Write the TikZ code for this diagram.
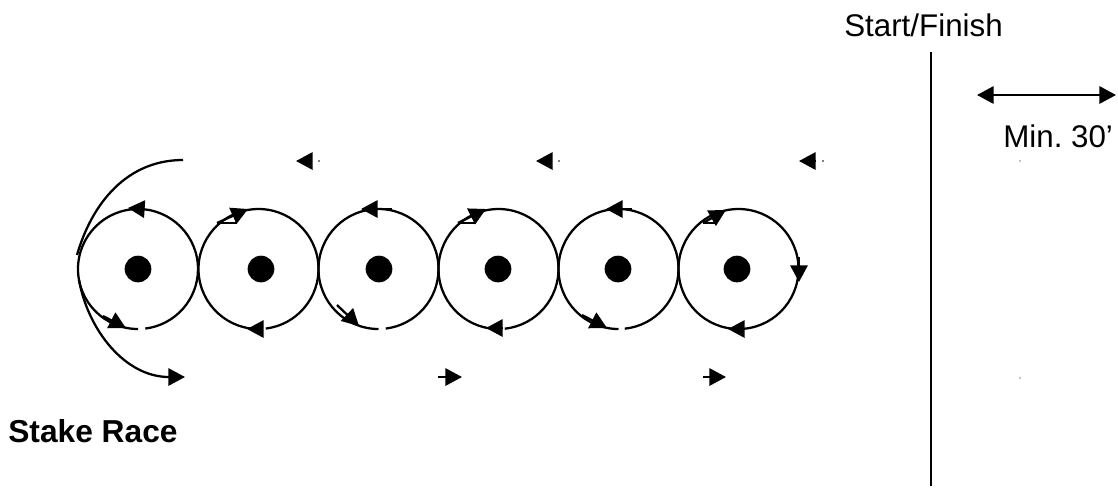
\documentclass[tikz,border=0pt]{standalone}
\usepackage{fontspec}
\setmainfont{Liberation Sans}
\usetikzlibrary{arrows.meta}
\tikzset{
  track/.style={line width=1.7pt},
  head/.style={track, -{Triangle[length=12.5pt,width=13pt]}},
  stake/.style={circle, fill=black, inner sep=0pt, minimum size=20pt},
  label/.style={anchor=base west, inner sep=0pt, font=\fontsize{23.5}{28}\selectfont},
}
\frenchspacing
\begin{document}
\begin{tikzpicture}[x=0.75pt, y=0.75pt, yscale=-1]
    \useasboundingbox (0,0) rectangle (1118,487);
    % stakes and the circles round them, each with its small gap at the bottom
    \foreach \cx/\dx/\ga/\gb [count=\i] in {138/138/83/90, 258.5/261/83/87, 378.5/379/83/90, 498.5/498/84/87, 618.5/618/84/90} {
      \node[stake] (stake\i) at (\dx,269) {};
      \draw[track] ([shift={(\cx,269)}]\gb:45pt) arc[start angle=\gb, end angle=\ga+360, radius=45pt];
    }
    \node[stake] (stake6) at (737,269) {};
    \draw[track] (738.5,269) circle[radius=45pt];
    % top of each circle
    \draw[head] (143,209) -- (128,208);
    \draw[head] (392,209) -- (361,209);
    \draw[head] (632,209) -- (606,209);
    \draw[track] (217,223) -- (237,223);
    \draw[head] (217,223) -- (248,209);
    \draw[track] (458,223) -- (475,223);
    \draw[head] (458,223) -- (486,209);
    \draw[track] (703,223) -- (716,223);
    \draw[head] (703,223) -- (726,210);
    % bottom of each circle
    \draw[head] (103,316) -- (126,328);
    \draw[head] (262,329) -- (247,329);
    \draw[head] (337,305) -- (359,326);
    \draw[head] (502,328) -- (486,328);
    \draw[head] (582,315) -- (607,328);
    \draw[head] (743,329) -- (728,329);
    \draw[head] (799,257) -- (799,282);
    % entry and exit curves
    \draw[track] (183,160) .. controls (127,160) and (92,203) .. (77,255);
    \draw[head] (79,280) .. controls (88,330) and (125,377) .. (185,377);
    % straight runs
    \draw[head] (311,161) -- (296,161);
    \draw[head] (551,161) -- (536,161);
    \draw[head] (815,161) -- (799,161);
    \draw[head] (438,377) -- (462,377);
    \draw[head] (703,377) -- (726,377);
    \fill (319,161) circle (0.6pt);
    \fill (559,161) circle (0.6pt);
    \fill (823,161) circle (0.6pt);
    \fill (1020,161) circle (0.5pt);
    \fill (1020,378) circle (0.5pt);
    % start line and spacing
    \coordinate (linetop) at (931,52);
    \coordinate (linebot) at (931,486);
    \coordinate (minl) at (977,95);
    \coordinate (minr) at (1116,95);
    \draw[line width=1.5pt] (linetop) -- (linebot);
    \draw[track, {Triangle[length=12.5pt,width=13pt]}-{Triangle[length=12.5pt,width=13pt]}] (minl) -- (minr);
    \node[label] (start) at (844,36) {Start/Finish};
    \node[label] (minimum) at (1003,147) {Min. 30’};
    \node[label, font=\fontsize{23.8}{28}\selectfont\bfseries] (race) at (8,442) {Stake Race};
\end{tikzpicture}
\end{document}
